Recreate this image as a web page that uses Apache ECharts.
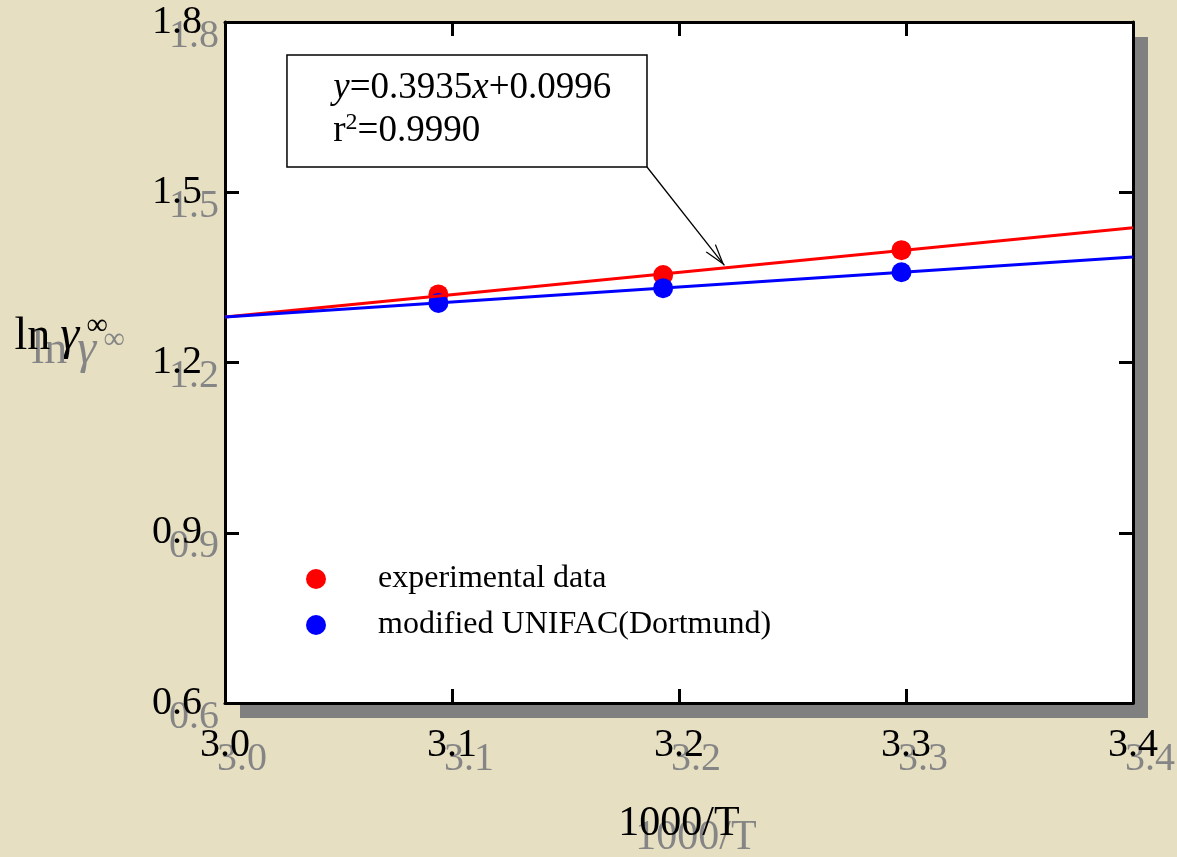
<!DOCTYPE html>
<html>
<head>
<meta charset="utf-8">
<script src="https://cdn.jsdelivr.net/npm/echarts@6/dist/echarts.min.js"></script>
<style>
  html, body { margin: 0; padding: 0; background: #e6dfc1; }
  #chart { width: 1177px; height: 857px; }
</style>
</head>
<body>
<div id="chart"></div>
<script>
// measured points (1000/T, ln gamma inf)
const xData = [3.094, 3.193, 3.298]
const expData = [1.320, 1.354, 1.398]
const unifacData = [1.305, 1.331, 1.359]

// straight lines drawn across the whole x range
const lineX = [3.0, 3.4]
const expFit = [1.2801, 1.4375]
const unifacFit = [1.2800, 1.3860]

// annotation box corners and arrow (data coords)
const boxCorners = [[3.0273, 1.7419], [3.1859, 1.5445]]
const arrowFrom = [3.1859, 1.5445]
const arrowTo = [3.220, 1.371]

const legendNames = ['experimental data', 'modified UNIFAC(Dortmund)']
const fitText = ['y', '=0.3935', 'x', '+0.0996', 'r', '2', '=0.9990']

const FONT = '"Liberation Serif", "Times New Roman", serif'
const SHADOW = { textShadowColor: '#858585', textShadowBlur: 0.5, textShadowOffsetX: 17, textShadowOffsetY: 14 }

const pairs = (xs, ys) => xs.map((x, i) => [x, ys[i]])

const chart = echarts.init(document.getElementById('chart'))

const axisTick = { show: true, inside: true, length: 14, lineStyle: { color: '#000', width: 3 } }
const axisLine = { show: true, lineStyle: { color: '#000', width: 3 } }

chart.setOption({
  backgroundColor: '#e6dfc1',
  animation: false,
  grid: {
    left: 225, top: 22, width: 908, height: 681,
    show: true,
    backgroundColor: '#fff',
    borderWidth: 0,
    shadowColor: '#808080',
    shadowBlur: 0,
    shadowOffsetX: 15,
    shadowOffsetY: 15,
  },
  legend: {
    data: legendNames.map((n) => ({ name: n, icon: 'circle' })),
    orient: 'vertical',
    left: 301,
    top: 558,
    itemWidth: 20,
    itemHeight: 20,
    itemGap: 14,
    textStyle: { fontFamily: FONT, fontSize: 32, color: '#000', padding: [0, 0, 0, 47] },
  },
  xAxis: [
    {
      type: 'value', min: 3.0, max: 3.4, interval: 0.1,
      name: '1000/T', nameLocation: 'middle', nameGap: 100,
      nameTextStyle: { fontFamily: FONT, fontSize: 42, color: '#000', ...SHADOW },
      axisLine, axisTick,
      splitLine: { show: false },
      axisLabel: { margin: 22, fontFamily: FONT, fontSize: 40, color: '#000', ...SHADOW, formatter: (v) => v.toFixed(1) },
    },
    {
      type: 'value', position: 'top', min: 3.0, max: 3.4, interval: 0.1,
      axisLine, axisTick, splitLine: { show: false }, axisLabel: { show: false },
    },
  ],
  yAxis: [
    {
      type: 'value', min: 0.6, max: 1.8, interval: 0.3,
      name: '{l|ln}{g|γ}{s| ∞}', nameLocation: 'middle', nameRotate: 0, nameGap: 117,
      nameTextStyle: {
        fontFamily: FONT, color: '#000', padding: [0, 0, 52, 0],
        rich: {
          l: { fontFamily: FONT, fontSize: 46, lineHeight: 50, color: '#000', ...SHADOW },
          g: { fontFamily: FONT, fontSize: 48, lineHeight: 50, fontStyle: 'italic', color: '#000', padding: [0, 0, 0, 10], ...SHADOW },
          s: { fontFamily: FONT, fontSize: 30, lineHeight: 26, verticalAlign: 'top', color: '#000', ...SHADOW },
        },
      },
      axisLine, axisTick,
      splitLine: { show: false },
      axisLabel: { margin: 23, fontFamily: FONT, fontSize: 40, color: '#000', ...SHADOW, formatter: (v) => v.toFixed(1) },
    },
    {
      type: 'value', position: 'right', min: 0.6, max: 1.8, interval: 0.3,
      axisLine, axisTick, splitLine: { show: false }, axisLabel: { show: false },
    },
  ],
  series: [
    {
      name: 'exp fit',
      type: 'line',
      data: pairs(lineX, expFit),
      showSymbol: false,
      silent: true,
      lineStyle: { color: '#ff0000', width: 3 },
      markArea: {
        silent: true,
        itemStyle: { color: '#fff', borderColor: '#000', borderWidth: 1.5 },
        label: {
          show: true,
          position: [47, 13],
          formatter: `{i|${fitText[0]}}{n|${fitText[1]}}{i|${fitText[2]}}{n|${fitText[3]}}\n{n|${fitText[4]}}{s|${fitText[5]}}{n|${fitText[6]}}`,
          rich: {
            n: { fontFamily: FONT, fontSize: 37, lineHeight: 43, color: '#000' },
            i: { fontFamily: FONT, fontSize: 37, lineHeight: 43, fontStyle: 'italic', color: '#000' },
            s: { fontFamily: FONT, fontSize: 24, lineHeight: 20, verticalAlign: 'top', color: '#000' },
          },
        },
        data: [[{ coord: boxCorners[0] }, { coord: boxCorners[1] }]],
      },
      markLine: {
        silent: true,
        symbol: ['none', 'path://M5,0 L5,0 M5,10 L10,20 L9,20 L5,12 L1,20 L0,20 Z'],
        symbolSize: [13, 44],
        lineStyle: { color: '#000', width: 1.3, type: 'solid' },
        label: { show: false },
        data: [[{ coord: arrowFrom }, { coord: arrowTo }]],
      },
    },
    {
      name: 'unifac fit',
      type: 'line',
      data: pairs(lineX, unifacFit),
      showSymbol: false,
      silent: true,
      lineStyle: { color: '#0000ff', width: 3 },
    },
    {
      name: legendNames[0],
      type: 'scatter',
      data: pairs(xData, expData),
      symbolSize: 20,
      itemStyle: { color: '#ff0000', opacity: 1 },
    },
    {
      name: legendNames[1],
      type: 'scatter',
      data: pairs(xData, unifacData),
      symbolSize: 20,
      itemStyle: { color: '#0000ff', opacity: 1 },
    },
  ],
})
</script>
</body>
</html>
